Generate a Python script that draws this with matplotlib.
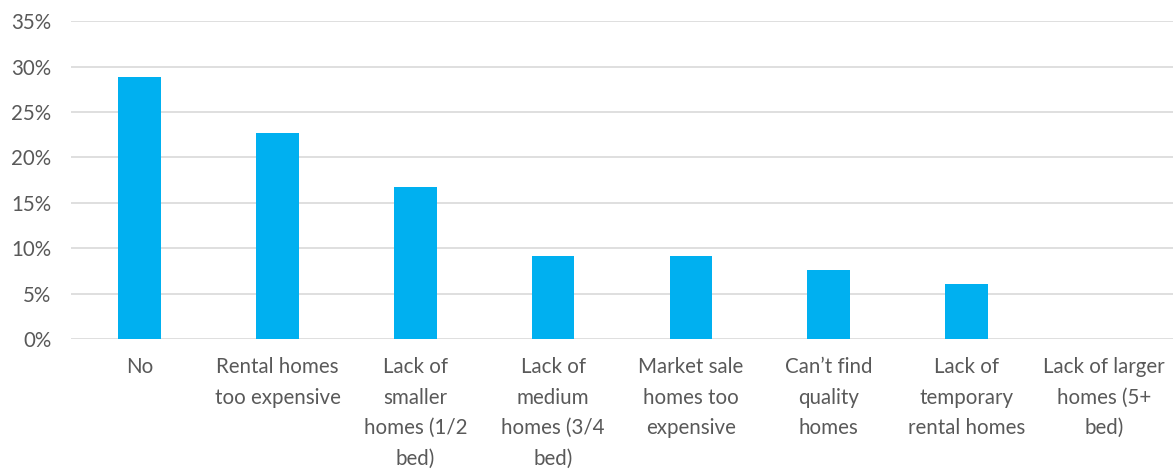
import matplotlib.pyplot as plt
from matplotlib.ticker import PercentFormatter

# data
categories = [
    "No",
    "Rental homes\ntoo expensive",
    "Lack of\nsmaller\nhomes (1/2\nbed)",
    "Lack of\nmedium\nhomes (3/4\nbed)",
    "Market sale\nhomes too\nexpensive",
    "Can\u2019t find\nquality\nhomes",
    "Lack of\ntemporary\nrental homes",
    "Lack of larger\nhomes (5+\nbed)",
]
shares = [28.8, 22.7, 16.7, 9.1, 9.1, 7.6, 6.1, 0.0]
y_ticks = [0, 5, 10, 15, 20, 25, 30, 35]

plt.rcParams["font.family"] = ["Lato", "DejaVu Sans"]
text_color = "#595959"

fig = plt.figure(figsize=(11.73, 4.69), dpi=100)
ax = fig.add_axes([0.0605, 0.277, 0.9395, 0.678])

x = range(len(categories))
ax.bar(x, shares, width=0.31, color="#00B0F0", zorder=3)

ax.set_xlim(-0.5, len(categories) - 0.5)
ax.set_ylim(0, 35)
ax.set_yticks(y_ticks)
ax.yaxis.set_major_formatter(PercentFormatter(decimals=0))
ax.grid(axis="y", color="#D9D9D9", linewidth=1.2, zorder=0)

ax.set_xticks(list(x))
ax.set_xticklabels(categories, linespacing=1.66)
ax.tick_params(axis="x", length=0, pad=13, labelsize=14.8, colors=text_color)
ax.tick_params(axis="y", length=0, pad=14, labelsize=14.8, colors=text_color)
for s in ax.spines.values():
    s.set_visible(False)

fig.savefig("out.png", dpi=100)
